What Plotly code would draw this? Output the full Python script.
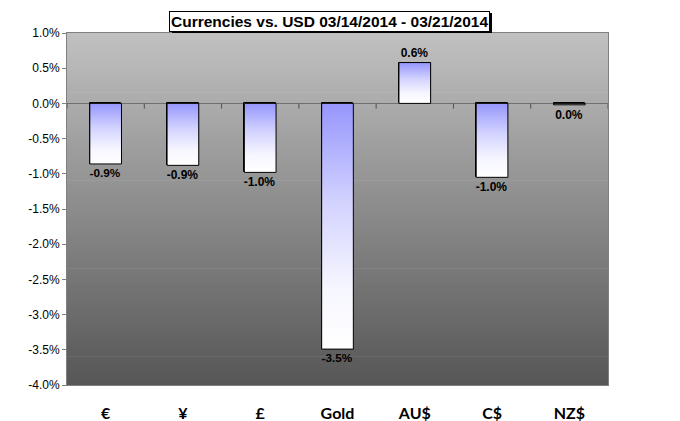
import plotly.graph_objects as go

categories = ["€", "¥", "£", "Gold", "AU$", "C$", "NZ$"]
values = [-0.86, -0.88, -0.98, -3.49, 0.58, -1.05, -0.02]
labels = ["-0.9%", "-0.9%", "-1.0%", "-3.5%", "0.6%", "-1.0%", "0.0%"]
ytick_vals = [1.0, 0.5, 0.0, -0.5, -1.0, -1.5, -2.0, -2.5, -3.0, -3.5, -4.0]
ytick_text = ["1.0%", "0.5%", "0.0%", "-0.5%", "-1.0%", "-1.5%", "-2.0%",
              "-2.5%", "-3.0%", "-3.5%", "-4.0%"]
title_text = "Currencies vs. USD 03/14/2014 - 03/21/2014"

BAR_W = 0.41
TICK_LEN = 0.075  # separator tick length, in axis units
xs = list(range(len(categories)))
Y_MIN, Y_MAX = -4, 1

fig = go.Figure()

# base bars (white, black outline) with value labels
fig.add_trace(go.Bar(
    x=xs, y=values, width=BAR_W,
    marker=dict(color="white", line=dict(color="black", width=1)),
    text=labels, textposition="outside", cliponaxis=False,
    textfont=dict(family="Liberation Sans, Arial", size=12, color="black", weight="bold"),
    hoverinfo="skip", showlegend=False,
))

# gradient overlay for each bar
for i, v in zip(xs, values):
    fig.add_trace(go.Scatter(
        x=[i - BAR_W / 2, i + BAR_W / 2, i + BAR_W / 2, i - BAR_W / 2, i - BAR_W / 2],
        y=[0, 0, v, v, 0],
        mode="lines", fill="toself",
        fillgradient=dict(type="vertical",
                          colorscale=[[0, "#ffffff"], [0.25, "#f6f6ff"],
                                      [0.6, "#d2d2ff"], [1, "#9696fd"]]),
        line=dict(color="black", width=1),
        hoverinfo="skip", showlegend=False,
    ))

# category separator ticks hanging below the zero line
sep_x, sep_y = [], []
for i in range(len(categories) + 1):
    b = i - 0.5
    sep_x += [b, b, None]
    sep_y += [0, -TICK_LEN, None]
fig.add_trace(go.Scatter(
    x=sep_x, y=sep_y, mode="lines",
    line=dict(color="#505050", width=1),
    cliponaxis=False, hoverinfo="skip", showlegend=False,
))

# background gradient bands in the plot area
N = 100
top = (193, 193, 193)
bot = (86, 86, 86)
shapes = []
for k in range(N):
    t = (k + 0.5) / N  # 0 bottom .. 1 top
    c = tuple(int(round(bot[j] + (top[j] - bot[j]) * t)) for j in range(3))
    shapes.append(dict(type="rect", xref="x domain", yref="y domain",
                       x0=0, x1=1, y0=k / N, y1=min(1, (k + 1) / N + 0.002),
                       fillcolor="rgb(%d,%d,%d)" % c, line=dict(width=0),
                       layer="below"))

# drop shadow of the title box
shapes.append(dict(type="rect", xref="paper", yref="paper",
                   x0=0.194, x1=0.7856, y0=1.0, y1=1.0568,
                   fillcolor="black", line=dict(width=0), layer="above"))

fig.update_layout(
    width=680, height=421,
    autosize=False,
    margin=dict(l=67, r=72, t=33, b=36, pad=0, autoexpand=False),
    paper_bgcolor="white", plot_bgcolor="rgba(0,0,0,0)",
    shapes=shapes,
    bargap=0,
    xaxis=dict(
        automargin=False,
        range=[-0.5, len(categories) - 0.5],
        tickvals=xs, ticktext=categories,
        tickfont=dict(family="Lato", size=16, color="black", weight="bold"),
        showgrid=False, zeroline=False, ticks="",
        showline=True, linecolor="#808080", linewidth=1, mirror=True,
        ticklabelstandoff=14,
    ),
    yaxis=dict(
        automargin=False,
        range=[Y_MIN, Y_MAX], tickvals=ytick_vals, ticktext=ytick_text,
        tickfont=dict(family="Liberation Sans, Arial", size=12, color="black"),
        showgrid=False, zeroline=True, zerolinecolor="#707070", zerolinewidth=1,
        ticks="outside", ticklen=4, tickcolor="#808080",
        showline=True, linecolor="#808080", linewidth=1, mirror=True,
    ),
    annotations=[
        dict(text=title_text, xref="paper", yref="paper", x=0.486, y=1.034,
             xanchor="center", yanchor="middle", showarrow=False,
             font=dict(family="Liberation Sans, Arial", size=15.5, color="black", weight="bold"),
             bgcolor="white", bordercolor="black", borderwidth=1, borderpad=1),
    ],
)

fig.write_html("out.html", config={"displayModeBar": False},
               post_script="document.body.style.margin='0';")
